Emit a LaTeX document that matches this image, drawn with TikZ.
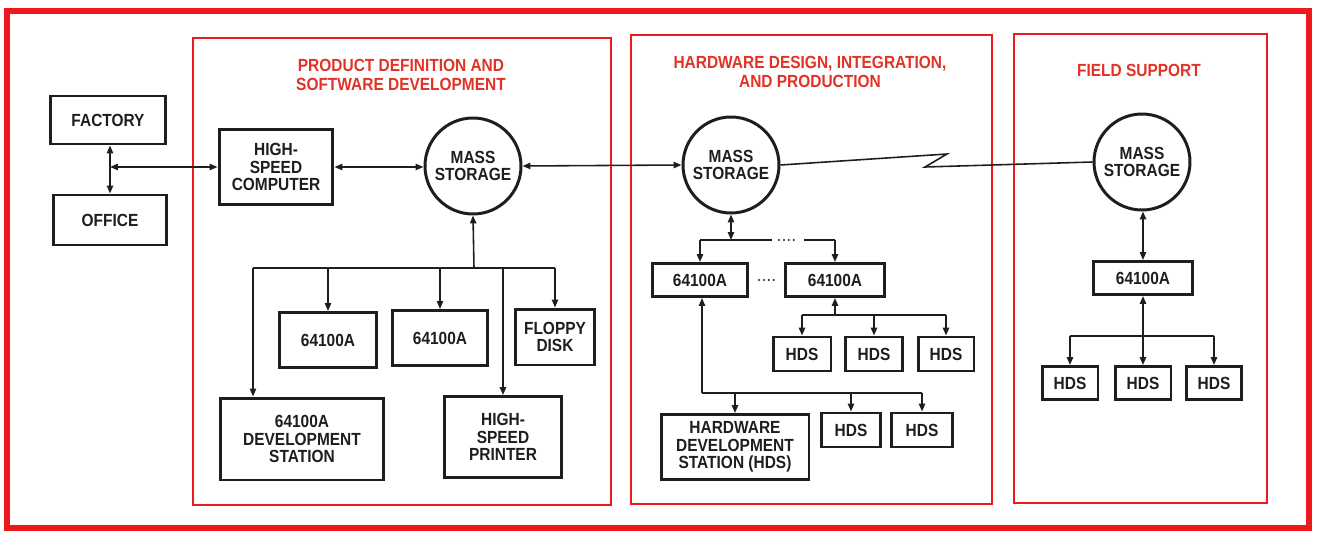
\documentclass[tikz,border=0pt]{standalone}
\usepackage{fontspec}
\setmainfont{Liberation Sans}[FakeStretch=0.88]
\usetikzlibrary{positioning,arrows.meta}
\definecolor{framered}{RGB}{238,24,30}
\definecolor{titlered}{RGB}{226,50,38}
\definecolor{ink}{RGB}{30,30,30}

\begin{document}
\begin{tikzpicture}[x=0.02cm, y=-0.02cm,
    box/.style={draw=ink, text=ink, line width=1.7pt, inner sep=1pt, align=center,
        font=\bfseries\fontsize{10}{10}\selectfont},
    store/.style={box, circle, minimum size=1.92cm, inner sep=0pt},
    ttl/.style={text=titlered, align=center, font=\bfseries\fontsize{10}{10.8}\selectfont},
    panel/.style={draw=framered, line width=1.1pt},
    link/.style={draw=ink, line width=0.9pt},
    bi/.style={link, {Triangle[length=4.5pt,width=3.6pt]}-{Triangle[length=4.5pt,width=3.6pt]}},
    feed/.style={link, -{Triangle[length=4.5pt,width=3.6pt]}},
    dotline/.style={draw=ink, line width=1.3pt, line cap=round, dash pattern=on 0pt off 2.8pt},
    ]

    \useasboundingbox (0,0) rectangle (1319,537);

    % outer frame and the three areas
    \draw[framered, line width=3.2pt] (7,11) rectangle (1309,528);
    \draw[panel] (193,38) rectangle (611,505);
    \draw[panel] (631,35) rectangle (992,504);
    \draw[panel] (1014,34) rectangle (1267,503);

    \node[ttl] (t1) at (401,75) {PRODUCT DEFINITION AND\\SOFTWARE DEVELOPMENT};
    \node[ttl] (t2) at (810,72) {HARDWARE DESIGN, INTEGRATION,\\AND PRODUCTION};
    \node[ttl] (t3) at (1139,70) {FIELD SUPPORT};

    % factory / office and the software side
    \node[box, minimum width=2.30cm, minimum height=0.96cm] (fac) at (108,120) {FACTORY};
    \node[box, minimum width=2.28cm, minimum height=1.00cm] (off) at (110,220) {OFFICE};
    \node[box, minimum width=2.28cm, minimum height=1.52cm] (hsc) at (276,167) {HIGH-\\SPEED\\COMPUTER};
    \node[store] (ms1) at (473,166) {MASS\\STORAGE};

    \node[box, minimum width=1.94cm, minimum height=1.10cm] (p1a) at (328,340) {64100A};
    \node[box, minimum width=1.90cm, minimum height=1.10cm] (p1b) at (440,338) {64100A};
    \node[box, minimum width=1.58cm, minimum height=1.12cm] (fd) at (555,337) {FLOPPY\\DISK};
    \node[box, minimum width=3.28cm, minimum height=1.64cm] (ds) at (302,439) {64100A\\DEVELOPMENT\\STATION};
    \node[box, minimum width=2.34cm, minimum height=1.62cm] (pr) at (503,437) {HIGH-\\SPEED\\PRINTER};

    % hardware side
    \node[store] (ms2) at (731,165) {MASS\\STORAGE};
    \node[box, minimum width=1.90cm, minimum height=0.66cm] (h1) at (700,280) {64100A};
    \node[box, minimum width=1.98cm, minimum height=0.66cm] (h2) at (835,280) {64100A};
    \node[box, minimum width=1.16cm, minimum height=0.68cm] (r1a) at (802,354) {HDS};
    \node[box, minimum width=1.14cm, minimum height=0.68cm] (r1b) at (874,354) {HDS};
    \node[box, minimum width=1.12cm, minimum height=0.68cm] (r1c) at (946,354) {HDS};
    \node[box, minimum width=2.96cm, minimum height=1.30cm] (hws) at (735,447) {HARDWARE\\DEVELOPMENT\\STATION (HDS)};
    \node[box, minimum width=1.18cm, minimum height=0.68cm] (r2a) at (851,430) {HDS};
    \node[box, minimum width=1.22cm, minimum height=0.68cm] (r2b) at (922,430) {HDS};

    % field side
    \node[store] (ms3) at (1142,162) {MASS\\STORAGE};
    \node[box, minimum width=1.98cm, minimum height=0.66cm] (fs) at (1143,278) {64100A};
    \node[box, minimum width=1.12cm, minimum height=0.66cm] (f1) at (1070,383) {HDS};
    \node[box, minimum width=1.12cm, minimum height=0.66cm] (f2) at (1143,383) {HDS};
    \node[box, minimum width=1.10cm, minimum height=0.66cm] (f3) at (1214,383) {HDS};

    % junction points
    \coordinate (jf) at (110,167);
    \coordinate (b1) at (474,268);
    \coordinate (bL) at (253,268);
    \coordinate (b2) at (731,240);
    \coordinate (d1) at (772,240);
    \coordinate (d2) at (779,240);
    \coordinate (d3) at (797,240);
    \coordinate (d4) at (804,240);
    \coordinate (b3) at (835,315);
    \coordinate (b4) at (702,393);
    \coordinate (b5) at (1143,336);
    \coordinate (zz1) at (947,154);
    \coordinate (zz2) at (925,167);

    % main line
    \draw[bi] (fac.south -| jf) -- (off.north -| jf);
    \draw[bi] (jf) -- (hsc.west);
    \draw[bi] (hsc.east) -- (ms1.west |- hsc.east);
    \draw[bi] (ms1.east) -- (ms2.west);
    \draw[link] (ms2.east) -- (zz1) -- (zz2) -- (ms3.west);

    % software bus
    \draw[feed] (b1) -- (ms1.south);
    \draw[link] (bL) -- (fd.north |- b1);
    \draw[feed] (bL) -- (bL |- ds.north);
    \draw[feed] (p1a.north |- b1) -- (p1a.north);
    \draw[feed] (p1b.north |- b1) -- (p1b.north);
    \draw[feed] (pr.north |- b1) -- (pr.north);
    \draw[feed] (fd.north |- b1) -- (fd.north);

    % hardware bus
    \draw[bi] (ms2.south) -- (b2);
    \draw[link] (h1.north |- b2) -- (d1);
    \draw[dotline] (d2) -- (d3);
    \draw[link] (d4) -- (h2.north |- b2);
    \draw[feed] (h1.north |- b2) -- (h1.north);
    \draw[feed] (h2.north |- b2) -- (h2.north);
    \draw[dotline] ([xshift=0.2cm]h1.east) -- ([xshift=-0.2cm]h2.west);

    \draw[feed] (b3) -- (h2.south);
    \draw[link] (r1a.north |- b3) -- (r1c.north |- b3);
    \draw[feed] (r1a.north |- b3) -- (r1a.north);
    \draw[feed] (r1b.north |- b3) -- (r1b.north);
    \draw[feed] (r1c.north |- b3) -- (r1c.north);

    \draw[feed] (b4) -- (b4 |- h1.south);
    \draw[link] (b4) -- (r2b.north |- b4);
    \draw[feed] (hws.north |- b4) -- (hws.north);
    \draw[feed] (r2a.north |- b4) -- (r2a.north);
    \draw[feed] (r2b.north |- b4) -- (r2b.north);

    % field bus
    \draw[bi] (fs.north |- ms3.south) -- (fs.north);
    \draw[bi] (fs.south) -- (f2.north);
    \draw[link] (f1.north |- b5) -- (f3.north |- b5);
    \draw[feed] (f1.north |- b5) -- (f1.north);
    \draw[feed] (f3.north |- b5) -- (f3.north);

\end{tikzpicture}
\end{document}
